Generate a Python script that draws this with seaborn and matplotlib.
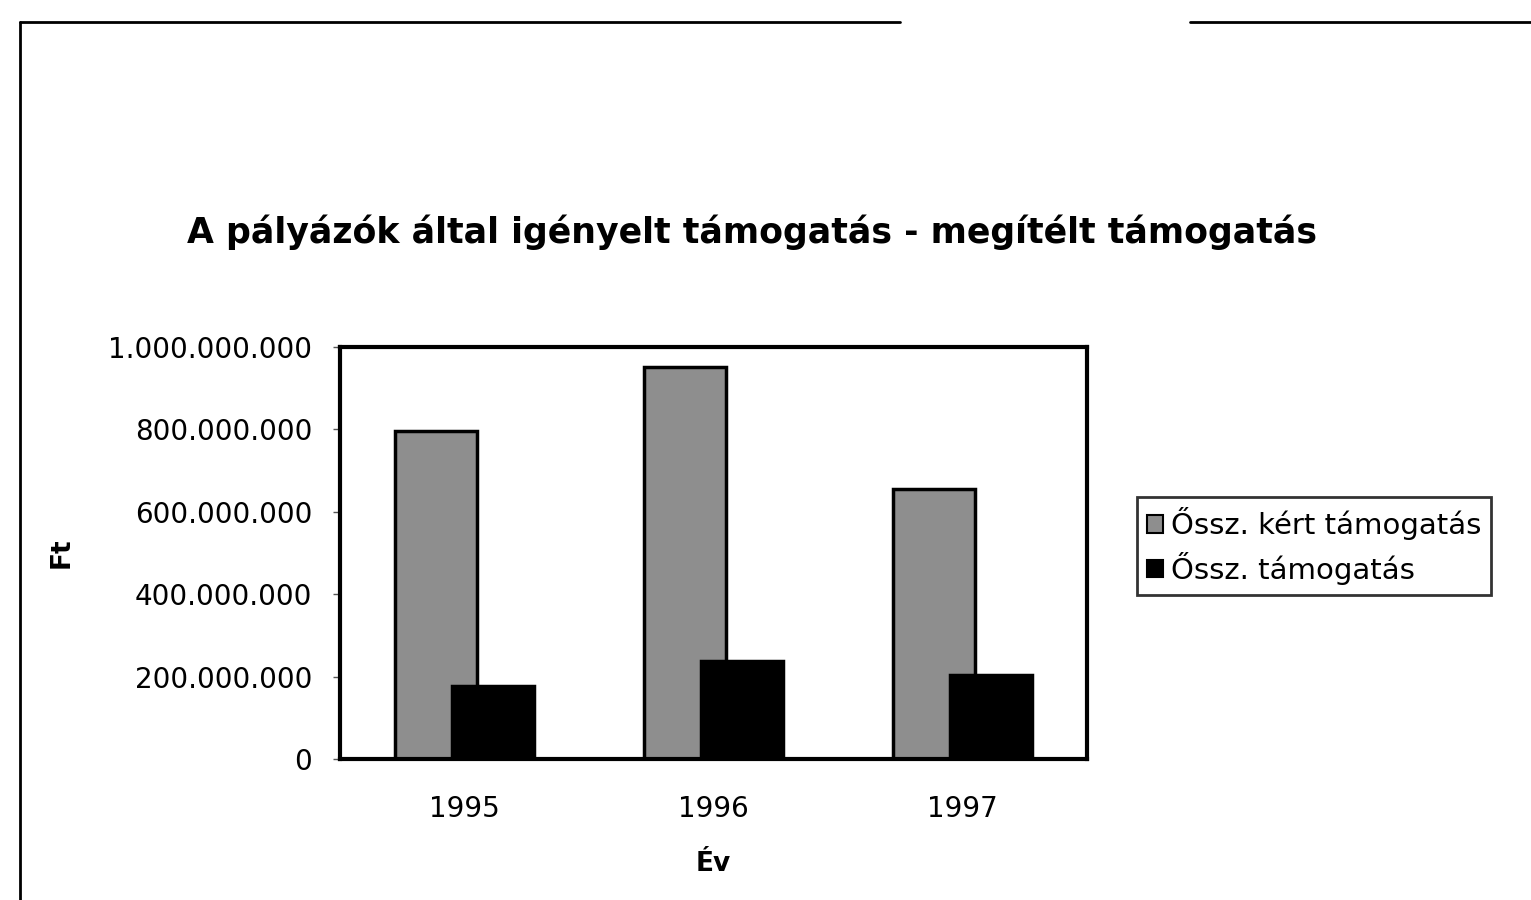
import matplotlib
matplotlib.use("Agg")
import matplotlib.pyplot as plt
import matplotlib.ticker as mticker
from matplotlib.lines import Line2D
import seaborn as sns
import pandas as pd

years = ["1995", "1996", "1997"]
keres = [797_000_000, 951_000_000, 655_000_000]
tamogatas = [178_000_000, 237_000_000, 205_000_000]
series_names = ["Őssz. kért támogatás", "Őssz. támogatás"]
title = "A pályázók által igényelt támogatás - megítélt támogatás"

df = pd.DataFrame({
    "Év": years * 2,
    "Ft": keres + tamogatas,
    "Sorozat": [series_names[0]] * 3 + [series_names[1]] * 3,
})

sns.set_theme(style="white")
plt.rcParams["font.family"] = ["DejaVu Sans"]
plt.rcParams["text.color"] = "black"
plt.rcParams["xtick.color"] = "black"
plt.rcParams["ytick.color"] = "black"
plt.rcParams["axes.labelcolor"] = "black"

fig = plt.figure(figsize=(15.31, 9), dpi=100)
ax = fig.add_axes([340/1531, 1-759/900, (1087-340)/1531, (759-347)/900])

palette = {series_names[0]: "#8e8e8e", series_names[1]: "#000000"}
sns.barplot(data=df, x="Év", y="Ft", hue="Sorozat", palette=palette,
            hue_order=series_names, order=years, ax=ax, legend=False,
            edgecolor="black", linewidth=2.5, saturation=1)

# Excel-style overlapping bars
bw = 0.33
offs = {0: -0.115, 1: 0.115}
n = len(years)
for i, p in enumerate(ax.patches[:2*n]):
    s = i // n
    c = i % n
    p.set_width(bw)
    p.set_x(c + offs[s] - bw/2)

ax.set_xlim(-0.5, 2.5)
ax.set_ylim(0, 1_000_000_000)
ax.yaxis.set_major_locator(mticker.MultipleLocator(200_000_000))
ax.yaxis.set_major_formatter(mticker.FuncFormatter(lambda v, p: f"{int(v):,}".replace(",", ".")))
ax.tick_params(axis="y", labelsize=20, length=5, width=1, left=True, color="#555555", pad=15)
ax.tick_params(axis="x", labelsize=20, length=0, pad=26)
for sp in ax.spines.values():
    sp.set_visible(True)
    sp.set_color("black")
    sp.set_linewidth(3)

ax.set_xlabel("Év", fontsize=19, fontweight="bold", labelpad=20)
ax.set_ylabel("Ft", fontsize=19, fontweight="bold", labelpad=24)

fig.text(752/1531, 1-232/900, title, ha="center", va="center", fontsize=25, fontweight="bold")

handles = [plt.Rectangle((0, 0), 1, 1, facecolor=palette[s], edgecolor="black", linewidth=1.5)
           for s in series_names]
leg = fig.legend(handles, series_names, loc="center left",
                 bbox_to_anchor=(1137/1531, 1-546/900), fontsize=21,
                 frameon=True, fancybox=False, handlelength=0.55, handleheight=0.55,
                 handletextpad=0.25, borderpad=0.35, labelspacing=0.4, borderaxespad=0)
leg.get_frame().set_edgecolor("black")
leg.get_frame().set_linewidth(2)

# scanned page frame
fig.add_artist(Line2D([20/1531, 20/1531], [0, 1-22/900], transform=fig.transFigure, color="black", lw=2))
fig.add_artist(Line2D([20/1531, 900/1531], [1-22/900, 1-22/900], transform=fig.transFigure, color="black", lw=2))
fig.add_artist(Line2D([1190/1531, 1], [1-22/900, 1-22/900], transform=fig.transFigure, color="black", lw=2))

fig.savefig("out.png", dpi=100)
